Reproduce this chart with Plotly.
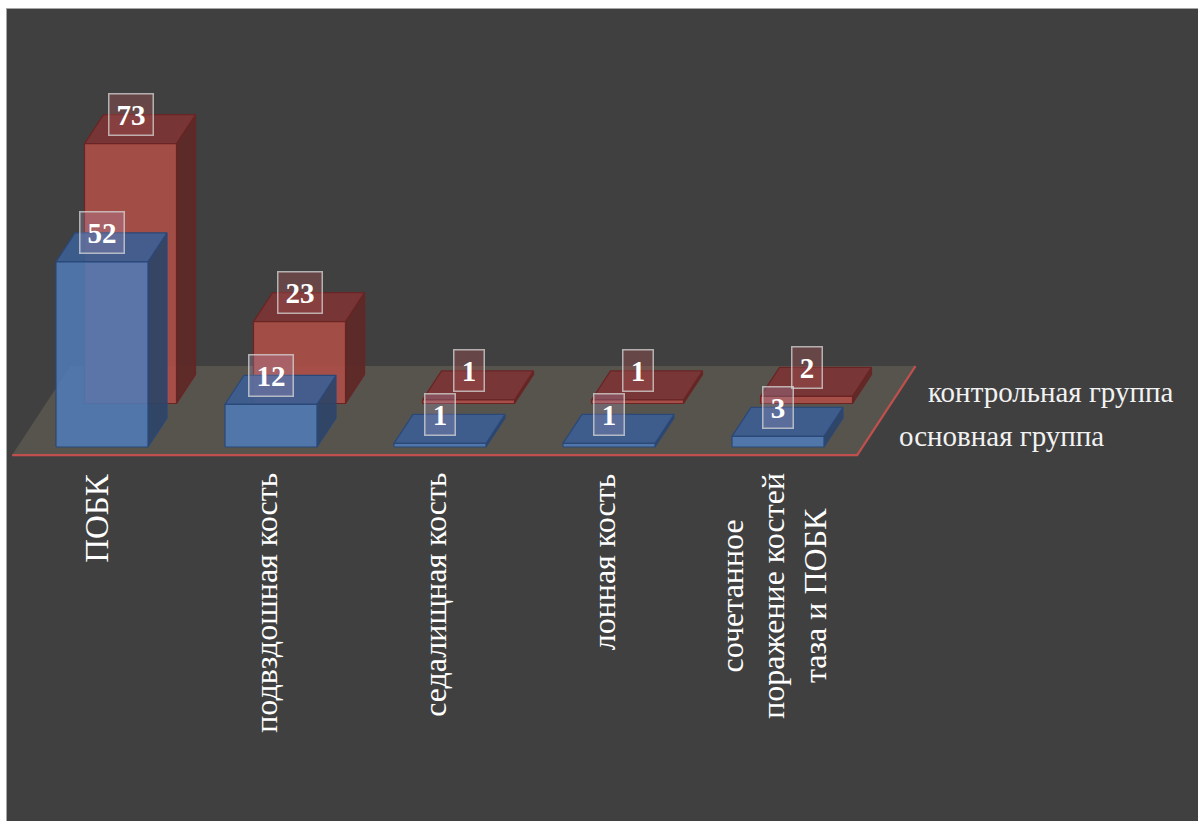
import plotly.graph_objects as go

# ---------------- data ----------------
categories = [
    "ПОБК",
    "подвздошная кость",
    "седалищная кость",
    "лонная кость",
    "сочетанное<br>поражение костей<br>таза и ПОБК",
]
main_name = "основная группа"
control_name = "контрольная группа"
main_values = [52, 12, 1, 1, 3]
control_values = [73, 23, 1, 1, 2]

# ---------------- projection / style ----------------
PX_PER_CAT = 169.0
PX_PER_VAL = 3.56
DX = 19.0 / PX_PER_CAT        # x shift (category units) per unit of depth
DY = 29.0 / PX_PER_VAL        # y shift (value units) per unit of depth
BAR_W = 92.0 / PX_PER_CAT
GAP_HALF = 38.5 / PX_PER_CAT
FLOOR_D0, FLOOR_D1 = -0.28, 2.79

def proj(x, v, d):
    return x + d * DX, v + d * DY

def poly(pts):
    xs, ys = [], []
    for (x, v, d) in pts:
        px, py = proj(x, v, d)
        xs.append(px)
        ys.append(py)
    xs.append(xs[0])
    ys.append(ys[0])
    return xs, ys

fig = go.Figure()

def add_face(pts, fill, line, width=1.2, opacity=1.0):
    xs, ys = poly(pts)
    fig.add_trace(go.Scatter(
        x=xs, y=ys, mode="lines", fill="toself", fillcolor=fill,
        line=dict(color=line, width=width), opacity=opacity,
        hoverinfo="skip", showlegend=False))

n = len(categories)
fx0 = -GAP_HALF
fx1 = n - GAP_HALF

# floor
add_face([(fx0, 0, FLOOR_D0), (fx1, 0, FLOOR_D0), (fx1, 0, FLOOR_D1), (fx0, 0, FLOOR_D1)],
         "#57544d", "rgba(0,0,0,0)", width=0)
# floor red edges (front + right)
ex, ey = [], []
for (x, d) in [(fx0, FLOOR_D0), (fx1, FLOOR_D0), (fx1, FLOOR_D1)]:
    px, py = proj(x, 0, d)
    ex.append(px)
    ey.append(py)
fig.add_trace(go.Scatter(x=ex, y=ey, mode="lines", line=dict(color="#c0504d", width=2.2),
                         hoverinfo="skip", showlegend=False))

series = [
    (control_name, control_values, 1.5,
     dict(front="rgba(176,78,72,0.88)", top="rgba(124,52,52,0.92)", side="rgba(94,40,38,0.92)",
          line="#6a2424", label="rgba(160,80,80,0.40)")),
    (main_name, main_values, 0.0,
     dict(front="rgba(80,124,184,0.86)", top="rgba(60,94,146,0.92)", side="rgba(46,68,104,0.92)",
          line="#2a4878", label="rgba(180,160,200,0.25)")),
]

labels = []
for name, vals, d0, c in series:
    for i, v in enumerate(vals):
        x0, x1 = i, i + BAR_W
        d1 = d0 + 1
        # side, top, front
        add_face([(x1, 0, d0), (x1, 0, d1), (x1, v, d1), (x1, v, d0)], c["side"], c["line"])
        add_face([(x0, v, d0), (x1, v, d0), (x1, v, d1), (x0, v, d1)], c["top"], c["line"])
        add_face([(x0, 0, d0), (x1, 0, d0), (x1, v, d0), (x0, v, d0)], c["front"], c["line"])
        lx = i + d0 * DX + BAR_W / 2
        ly = v + (d0 + 1) * DY
        labels.append((lx, ly, v, c["label"]))

for lx, ly, v, bg in labels:
    w = 43 if len(str(v)) > 1 else 29
    fig.add_annotation(x=lx, y=ly, text="<b>%d</b>" % v, showarrow=False,
                       font=dict(family="Liberation Serif", size=29, color="#ffffff"),
                       bgcolor=bg, bordercolor="rgba(215,215,215,0.75)", borderwidth=1.5,
                       borderpad=0, width=w, height=40, xanchor="center", yanchor="middle")

# category labels (rotated)
for i, cat in enumerate(categories):
    px, py = proj(i + BAR_W / 2, 0, FLOOR_D0)
    size = 33 if i == 0 else 32
    fig.add_annotation(x=px, y=py, text=cat, showarrow=False, textangle=-90,
                       font=dict(family="Liberation Serif", size=size, color="#ffffff"),
                       xanchor="center", yanchor="top", yshift=-16, align="center")

# series names next to floor
for name, d in [(control_name, 2.0), (main_name, 0.5)]:
    px, py = proj(fx1, 0, d)
    fig.add_annotation(x=px, y=py, text=name, showarrow=False,
                       font=dict(family="Liberation Serif", size=29, color="#f2f2f2"),
                       xanchor="left", yanchor="middle", xshift=25, yshift=-3)

fig.update_layout(
    width=1198, height=821,
    margin=dict(l=7, r=0, t=9, b=0),
    paper_bgcolor="#ffffff",
    plot_bgcolor="#404040",
    showlegend=False,
)
fig.update_xaxes(range=[(7 - 56) / PX_PER_CAT, (1198 - 56) / PX_PER_CAT],
                 visible=True, showgrid=False, zeroline=False, showticklabels=False,
                 ticks="", showline=True, mirror=True, linecolor="#a6a6a6", linewidth=1,
                 fixedrange=True)
fig.update_yaxes(range=[(447 - 821) / PX_PER_VAL, (447 - 9) / PX_PER_VAL],
                 visible=True, showgrid=False, zeroline=False, showticklabels=False,
                 ticks="", showline=True, mirror=True, linecolor="#a6a6a6", linewidth=1,
                 fixedrange=True)

fig.write_html("out.html")
